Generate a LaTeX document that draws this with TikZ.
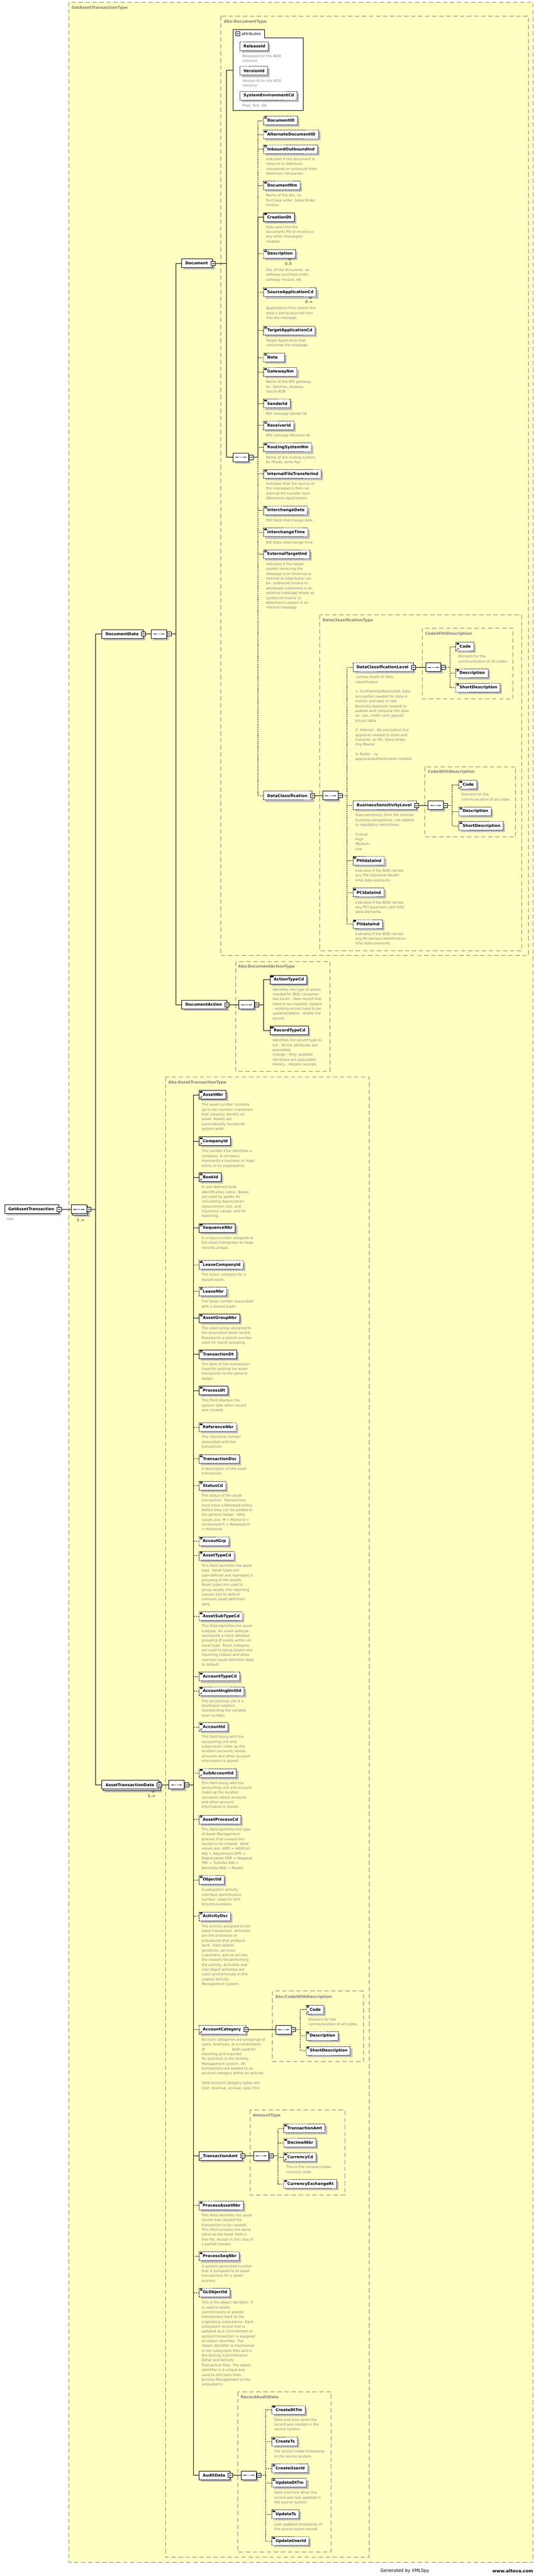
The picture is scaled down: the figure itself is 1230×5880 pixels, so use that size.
\documentclass[tikz,border=0pt]{standalone}
\usepackage{fontspec}
\setmainfont{DejaVu Sans}
\usetikzlibrary{shapes.misc,shadows,arrows.meta}
\definecolor{yel}{RGB}{255,255,194}
\definecolor{tgray}{RGB}{128,128,128}
\definecolor{dgray}{RGB}{128,128,128}
\definecolor{shgray}{RGB}{192,192,192}
\def\ppb{path picture bounding box}
\newcommand{\EqDraw}{\draw[solid,line width=0.5pt]
  ([xshift=1.5pt,yshift=-1.5pt]\ppb.north west) -- ([xshift=7.5pt,yshift=-1.5pt]\ppb.north west)
  ([xshift=1.5pt,yshift=-3pt]\ppb.north west) -- ([xshift=7.5pt,yshift=-3pt]\ppb.north west)
  ([xshift=1.5pt,yshift=-4.5pt]\ppb.north west) -- ([xshift=7.5pt,yshift=-4.5pt]\ppb.north west);}
\newcommand{\RefDraw}{\draw[solid,line width=0.7pt,-{Stealth[length=3pt,width=3pt]}]
  ([xshift=1.5pt,yshift=1.5pt]\ppb.south west) -- ([xshift=6.5pt,yshift=6.5pt]\ppb.south west);}
\tikzset{
 el/.style={draw=black, fill=white, line width=0.8pt, minimum height=20pt, inner xsep=6.5pt, inner ysep=0pt,
   font=\fontsize{9}{10}\selectfont\bfseries, anchor=west,
   drop shadow={shadow xshift=4.5pt, shadow yshift=-4.5pt, fill=shgray, opacity=1, draw=none}},
 opt/.style={dash pattern=on 2pt off 1.5pt},
 eqi/.style={path picture={\EqDraw}},
 eqr/.style={path picture={\EqDraw\RefDraw}},
 ri/.style={path picture={\RefDraw}},
 stk/.style={drop shadow={shadow xshift=7.5pt, shadow yshift=-7.5pt, fill=shgray, opacity=1, draw=none},
   copy shadow={shadow xshift=3pt, shadow yshift=-3pt, fill=white, draw=black, line width=0.8pt, solid}},
 minusb/.style={draw=black, fill=white, line width=0.7pt, minimum size=9.5pt, inner sep=0pt, solid,
   path picture={\draw[solid,line width=0.7pt] ([xshift=2pt]\ppb.west) -- ([xshift=-2pt]\ppb.east);}},
 seqn/.style={chamfered rectangle, chamfered rectangle xsep=6pt, draw=black, fill=white, line width=0.8pt,
   minimum width=35pt, minimum height=20pt, inner sep=0pt, anchor=west,
   drop shadow={shadow xshift=4.5pt, shadow yshift=-4.5pt, fill=shgray, opacity=1, draw=none},
   path picture={\draw[solid,line width=0.8pt] ([xshift=5pt]\ppb.west) -- ([xshift=-5pt]\ppb.east);
     \fill ([xshift=-4pt]\ppb.center) circle (1.4pt) (\ppb.center) circle (1.4pt) ([xshift=4pt]\ppb.center) circle (1.4pt);}},
 dsc/.style={font=\fontsize{8}{11}\selectfont, text=dgray, align=left, inner sep=0pt, anchor=north west},
 mult/.style={font=\fontsize{8}{9}\selectfont, inner sep=0pt},
 tbox/.style={draw=tgray, line width=1pt, dash pattern=on 10pt off 6pt},
 tlabel/.style={text=tgray, font=\fontsize{9}{10}\selectfont\bfseries, anchor=west, inner sep=0pt},
 conn/.style={draw=black, line width=0.8pt},
 optc/.style={dash pattern=on 2.5pt off 2pt}
}
\newcommand{\El}[5][]{\node[el,#1] (#2) at (#3,#4) {\hspace*{2pt}#5};}
\newcommand{\Cx}[5][]{\node[el,#1] (#2) at (#3,#4) {\hspace*{2pt}#5\hspace*{4.5pt}}; \node[minusb] (#2-m) at (#2.east) {};}
\newcommand{\Sq}[4][]{\node[seqn,#1] (#2) at (#3,#4) {}; \node[minusb,anchor=west] (#2-m) at (#2.east) {};}
\newcommand{\Dsc}[3][0]{\node[dsc] (#2-d) at ([xshift=6pt,yshift={-9pt-#1pt}]#2.south west) {#3};}
\newcommand{\Mult}[3][0]{\draw[line width=0.6pt] ([xshift=-17pt,yshift=-#1pt]#2.south east) -- ++(3.5,4) -- ++(3.5,-4);
  \node[mult] (#2-n) at ([xshift=-17pt,yshift={-12pt-#1pt}]#2.south east) {#3};}
\newcommand{\Ch}[3][]{\draw[conn,#1] (#2-m.east) -- ++(10,0) |- (#3.west);}
\begin{document}
\begin{tikzpicture}[x=1pt,y=-1pt]
\useasboundingbox (0,0) rectangle (1230,5880);
\fill[white] (0,0) rectangle (1230,5880);
% ---------- type boxes ----------
\draw[tbox, fill=yel] (157,5) rectangle (1217,5849);
\node[tlabel] (tGAT) at (163,18) {GetAssetTransactionType};
\draw[tbox] (504,37) rectangle (1206,2181);
\node[tlabel] (tDoc) at (511,49.5) {Abs:DocumentType};
\draw[tbox] (730,1404) rectangle (1191,2170);
\node[tlabel] (tDC) at (736,1416) {DataClassificationType};
\draw[tbox] (964,1434) rectangle (1171,1595);
\node[tlabel] (tCW1) at (970,1447) {CodeWithDescription};
\draw[tbox] (970,1750) rectangle (1177,1910);
\node[tlabel] (tCW2) at (976,1762) {CodeWithDescription};
\draw[tbox] (538,2195) rectangle (753,2445);
\node[tlabel] (tDA) at (543,2207) {Abs:DocumentActionType};
\draw[tbox] (378,2458) rectangle (843,5837);
\node[tlabel] (tAT) at (384,2471) {Abs:AssetTransactionType};
\draw[tbox] (622,4545) rectangle (829,4706);
\node[tlabel] (tCW3) at (628,4558) {Abs:CodeWithDescription};
\draw[tbox] (571,4816) rectangle (787,5010);
\node[tlabel] (tAm) at (577,4829) {AmountType};
\draw[tbox] (543,5459) rectangle (755,5825);
\node[tlabel] (tRA) at (549,5472) {RecordAuditData};
% ---------- root ----------
\Cx{root}{10}{2760}{GetAssetTransaction}
\node[dsc,anchor=west] (rootl) at (15,2783) {root};
\Sq[stk]{rootS}{162}{2760}
\node[mult] (rootSn) at ([xshift=4pt,yshift=-14pt]rootS.south) {1..∞};
\Cx{dData}{232}{1447}{DocumentData}
\Sq{dDataS}{345}{1447}
\Cx[stk]{atd}{232}{4074}{AssetTransactionData}
\Mult[3]{atd}{1..∞}
\Sq{atdS}{385}{4074}
% ---------- Document ----------
\Cx{doc}{414}{601}{Document}
\draw[line width=0.8pt, fill=white] (532,68) -- (604,68) -- (604,86) -- (692,86) -- (692,252) -- (532,252) -- cycle;
\coordinate (attrw) at (532,160);
\coordinate (dv) at (517,601);
\node[minusb] (attm) at (542.5,77) {};
\node[font=\fontsize{9}{10}\selectfont\itshape, anchor=west, inner sep=0pt] (attl) at (551,77) {attributes};
\El[opt]{relId}{547}{105.5}{ReleaseId}
\Dsc{relId}{ReleaseId for the BOD\\instance}
\El[opt]{verId}{547}{161.5}{VersionId}
\Dsc{verId}{Version Id for the BOD\\instance}
\El[opt]{sysEnv}{547}{218}{SystemEnvironmentCd}
\Dsc{sysEnv}{Prod, Test, QA}
\Sq{docS}{532}{1044}
\El[opt,eqi]{dID}{601}{275}{DocumentID}
\El[opt,eqi]{aID}{601}{307}{AlternateDocumentID}
\El[opt,eqi]{ioI}{601}{340.5}{InboundOutboundInd}
\Dsc{ioI}{Indicates if the document is\\inbound to Albertson\\companies or outbound from\\Albertson companies.}
\El[opt,eqi]{dNm}{601}{423.5}{DocumentNm}
\Dsc{dNm}{Name of the doc, ex\\Purchase order, Sales Order,\\Invoice.}
\El[eqi]{cDt}{601}{495.5}{CreationDt}
\Dsc{cDt}{Date and time the\\document( PO or Invoice or\\any other messages)\\created.}
\El[opt,eqi]{dDsc}{601}{579.5}{Description}
\Mult{dDsc}{0..5}
\Dsc[14]{dDsc}{Dsc of the document. ex\\safeway purchase order,\\safeway invoice..etc}
\El[opt,eqi]{sApp}{601}{667}{SourceApplicationCd}
\Mult{sApp}{0..∞}
\Dsc[14]{sApp}{Applications from where the\\data is being sourced from\\into the message.}
\El[opt,eqi]{tApp}{601}{754.5}{TargetApplicationCd}
\Dsc{tApp}{Target Application that\\consumes the message.}
\El[opt,eqi]{note}{601}{816}{Note\hspace*{9pt}}
\El[opt,eqi]{gwy}{601}{849}{GatewayNm}
\Dsc{gwy}{Name of the EDI gateway.\\Ex: Gentran, Axaway,\\Oracle B2B}
\El[opt,eqi]{snd}{601}{921}{SenderId}
\Dsc{snd}{EDI message sender Id}
\El[opt,eqi]{rcv}{601}{971}{ReceiverId}
\Dsc{rcv}{EDI message Receiver Id}
\El[opt,eqi]{rtg}{601}{1021}{RoutingSystemNm}
\Dsc{rtg}{Name of the routing system.\\Ex iTrade, wims Fax}
\El[opt,eqi]{ift}{601}{1081.5}{InternalFileTransferInd}
\Dsc{ift}{Indicates that the source of\\the messages is from an\\internal file transfer from\\Albertsons applications.}
\El[opt,eqi]{icd}{601}{1165}{InterchangeDate}
\Dsc{icd}{EDI Data interchange date}
\El[opt,eqi]{ict}{601}{1215}{InterchangeTime}
\Dsc{ict}{EDI Data interchange time}
\El[opt,eqi]{ext}{601}{1265}{ExternalTargetInd}
\Dsc{ext}{Indicates if the target\\system receiving the\\message is an External or\\Internal to Albertsons cos.\\Ex: outbound invoice to\\wholesale customers is an\\external message where as\\outbound invoice to\\Albertsons Lawson is an\\Internal message.}
\Cx[opt]{dcl}{601}{1816}{DataClassification}
% ---------- DataClassification ----------
\Sq{dclS}{736}{1816}
\Cx[opt]{dcLv}{805}{1523}{DataClassificationLevel}
\Dsc{dcLv}{various levels of data\\classification\\[11pt]1- Confidential/Restricted, data\\encryption needed for data in\\motion and data in rest.\\Business Approval needed to\\publish and consume the data.\\ex: ssn, credit card, payroll,\\phi,pci data\\[11pt]2- Internal - No encryption but\\approval needed to store and\\transmit, ex PO, Store Order,\\Org Master\\[11pt]3- Public - no\\approval/authentication needed}
\Sq{dcLvS}{971}{1523}
\El[opt,eqr]{c1}{1040}{1476}{Code}
\Dsc{c1}{Element for the\\communication of all codes.}
\El[opt,eqi]{d1}{1040}{1536.5}{Description}
\El[opt,eqi]{s1}{1040}{1569.5}{ShortDescription}
\Cx[opt]{bsl}{805}{1838}{BusinessSensitivityLevel}
\Dsc{bsl}{Data sensitivity from the internal\\business perspective, not related\\to regulatory restrictions.\\[11pt]Critical\\High\\Medium\\Low}
\Sq{bslS}{976}{1838}
\El[opt,eqr]{c2}{1047}{1791}{Code}
\Dsc{c2}{Element for the\\communication of all codes.}
\El[opt,eqi]{d2}{1047}{1852}{Description}
\El[opt,eqi]{s2}{1047}{1885}{ShortDescription}
\El[opt,eqi]{phi}{805}{1964.5}{PHIdataInd}
\Dsc{phi}{Indicates if the BOD carries\\any PHI (personal Health\\Info) data elements.}
\El[opt,eqi]{pci}{805}{2037}{PCIdataInd}
\Dsc{pci}{Indicates if the BOD carries\\any PCI (payment card info)\\data elements.}
\El[opt,eqi]{pii}{805}{2109}{PIIdataInd}
\Dsc{pii}{Indicates if the BOD carries\\any PII (person identification\\Info) data elements.}
% ---------- DocumentAction ----------
\Cx{dAct}{414}{2293}{DocumentAction}
\Sq{dActS}{545}{2293}
\El[eqi]{atc}{616}{2236}{ActionTypeCd}
\Dsc{atc}{Identifies the type of action\\needed for BOD consumer\\like Insert - New record that\\need to be inserted, Update\\- existing record need to be\\updated,delete - delete the\\record.}
\El[eqi]{rtc}{616}{2352}{RecordTypeCd}
\Dsc{rtc}{Identifies the record type as\\full - All the attributes are\\populated,\\change - Only updated\\attributes are populated,\\History - Historic records.}
% ---------- AssetTransaction ----------
\El[eqr]{aNbr}{454}{2499}{AssetNbr}
\Dsc{aNbr}{The asset number contains\\up to ten numeric characters\\that uniquely  identify an\\asset. Assets are\\automatically numbered\\system-wide.}
\El[eqr]{coId}{454}{2605}{CompanyId}
\Dsc{coId}{The number that identifies a\\company. A company\\represents a business or legal\\entity of an organization.}
\El[eqr]{bkId}{454}{2687}{BookId}
\Dsc{bkId}{A user-defined book\\identification name. Books\\are used by assets for\\calculating depreciation,\\replacement cost, and\\insurance values, and for\\reporting.}
\El[eqi]{sqN}{454}{2803}{SequenceNbr}
\Dsc{sqN}{A unique number assigned to\\the asset transaction to keep\\records unique.}
\El[opt,eqi]{lcId}{454}{2887}{LeaseCompanyId}
\Dsc{lcId}{The lessor company for a\\leased asset.}
\El[opt,eqi]{lNbr}{454}{2948}{LeaseNbr}
\Dsc{lNbr}{The lease number associated\\with a leased asset.}
\El[eqi]{agN}{454}{3009}{AssetGroupNbr}
\Dsc{agN}{The asset group assigned to\\the associated asset record.\\Represents a parent number\\used for report grouping.}
\El[eqi]{trDt}{454}{3091}{TransactionDt}
\Dsc{trDt}{The date of the transaction.\\Used for posting the asset\\transaction to the general\\ledger.}
\El[eqi]{prDt}{454}{3174}{ProcessDt}
\Dsc{prDt}{This field displays the\\system date when record\\was created.}
\El[opt,eqi]{refN}{454}{3257.5}{ReferenceNbr}
\Dsc{refN}{The reference number\\associated with the\\transaction.}
\El[opt,eqi]{trDsc}{454}{3330}{TransactionDsc}
\Dsc{trDsc}{A description of the asset\\transaction.}
\El[opt,eqi]{stCd}{454}{3391}{StatusCd}
\Dsc{stCd}{The status of the asset\\transaction.  Transactions\\must have a Released status\\before they can be posted to\\the general ledger.  Valid\\values are: M = Memo U =\\Unreleased R = Released H\\= Historical.}
\El[opt,eqi]{acGrp}{454}{3518}{AccoutGrp}
\El[opt,eqi]{atCd}{454}{3551}{AssetTypeCd}
\Dsc{atCd}{This field identifies the asset\\type.  Asset types are\\user-defined and represent a\\grouping of like assets.\\Asset types are used to\\group assets into reporting\\classes and to default\\common asset definition\\data.}
\El[opt,eqi]{astCd}{454}{3689}{AssetSubTypeCd}
\Dsc{astCd}{This field identifies the asset\\subtype. An asset subtype\\represents a more detailed\\grouping of assets within an\\asset type. Asset subtypes\\are used to group assets into\\reporting classes and allow\\common asset definition data\\to default.}
\El[opt,eqi]{actCd}{454}{3827}{AccountTypeCd}
\El[opt,eqr]{auId}{454}{3860}{AccountingUnitId}
\Dsc{auId}{The accounting unit is a\\shorthand notation\\representing the variable\\level number.}
\El[opt,eqr]{accId}{454}{3942}{AccountId}
\Dsc{accId}{This field along with the\\accounting unit and\\subaccount make up the\\location (account) where\\amounts and other  account\\information is stored.}
\El[opt,eqr]{sacId}{454}{4047}{SubAccountId}
\Dsc{sacId}{This field along with the\\accounting unit and account\\make up the location\\(account) where amounts\\and other  account\\information is stored.}
\El[opt,eqi]{apCd}{454}{4153}{AssetProcessCd}
\Dsc{apCd}{This field identifies the type\\of Asset Management\\process that caused this\\record to be created. Valid\\values are: ADD = Addition\\ADJ = Adjustment DPR =\\Depreciation DSP = Disposal\\TRF = Transfer RIN =\\Reinstate RAD = Readd.}
\El[opt,eqi]{obId}{454}{4291}{ObjectId}
\Dsc{obId}{A subsystem activity\\interface identification\\number. Used for Drill\\Around purposes.}
\El[opt,eqi]{actDsc}{454}{4374}{ActivityDsc}
\Dsc{actDsc}{The activity assigned to the\\asset transaction.  Activities\\are the processes or\\procedures that produce\\work. Cost objects\\(products, services,\\customers, and so on) are\\the reasons for performing\\the activity. Activities and\\cost object activities are\\used synonymously in the\\Lawson Activity\\Management system.}
\Cx[opt,ri]{acCat}{454}{4633}{AccountCategory}
\Dsc{acCat}{Account categories are groupings of\\costs, revenues, or a combination\\of\hspace*{62pt}both used for\\reporting and inquiries\\for activities in the Activity\\Management system. All\\transactions are posted to an\\account category within an activity.\\[11pt]Valid account category types are:\\Cost, revenue, accrual,  pass thru}
\Sq{acCatS}{629}{4633}
\El[opt,eqr]{c3}{698}{4587}{Code}
\Dsc{c3}{Element for the\\communication of all codes.}
\El[opt,eqi]{d3}{698}{4647}{Description}
\El[opt,eqi]{s3}{698}{4681}{ShortDescription}
\Cx[ri]{trAmt}{454}{4921}{TransactionAmt}
\Sq{trAmtS}{578}{4921}
\El[opt,eqi]{trAmt2}{647}{4858}{TransactionAmt}
\El[opt,eqi]{decN}{647}{4891}{DecimalNbr}
\El[opt,eqr]{curCd}{647}{4924}{CurrencyCd}
\Dsc{curCd}{This is the company base\\currency code.}
\El[opt,eqi]{curX}{647}{4985}{CurrencyExchangeRt}
\El[opt,eqi]{paN}{454}{5034}{ProcessAssetNbr}
\Dsc{paN}{This field identifies the asset\\record that caused the\\transaction to be  created.\\This field contains the same\\value as the Asset field in\\this file, except in the case of\\a partial transfer.}
\El[opt,eqi]{psN}{454}{5150}{ProcessSeqNbr}
\Dsc{psN}{A system-generated number\\that is assigned to all asset\\transactions for a given\\process.}
\El[opt,eqi]{glId}{454}{5233}{GLObjectId}
\Dsc{glId}{This is the object identifier. It\\is used to relate\\commitments or posted\\transactions back to the\\originating subsystems. Each\\subsystem record that is\\updated as a commitment or\\posted transaction is assigned\\an object identifier. The\\object identifier is maintained\\in the subsystem files and in\\the Activity Commitments\\Detail and Activity\\Transaction files. The object\\identifier is a unique key\\used to drill back from\\Activity Management to the\\subsystems.}
\Cx{aud}{454}{5650}{AuditData}
\Sq{audS}{550}{5650}
\El[opt,eqi]{crDt}{620}{5500.5}{CreateDtTm}
\Dsc{crDt}{Date and time when the\\record was created in the\\source system.}
\El[opt,eqi]{crTs}{620}{5573}{CreateTs}
\Dsc{crTs}{the record create timestamp\\in the source system.}
\El[opt,eqi]{crU}{620}{5634}{CreateUserId}
\El[opt,eqi]{upDt}{620}{5667}{UpdateDtTm}
\Dsc{upDt}{Date and time when the\\record was last updated in\\the source system.}
\El[opt,eqi]{upTs}{620}{5739}{UpdateTs}
\Dsc{upTs}{Last updated timestamp of\\the source sytem record.}
\El[opt,eqi]{upU}{620}{5800}{UpdateUserId}
% ---------- connectors ----------
\draw[conn] (root-m.east) -- (rootS.west);
\Ch{rootS}{dData}
\Ch{rootS}{atd}
\draw[conn] (dData-m.east) -- (dDataS.west);
\Ch{dDataS}{doc}
\Ch{dDataS}{dAct}
\draw[conn] (doc-m.east) -- (dv);
\draw[conn] (dv) |- (attrw);
\draw[conn] (dv) |- (docS.west);
\foreach \c in {dID,aID,ioI,dNm,dDsc,sApp,tApp,note,gwy,snd,rcv,rtg,ift,icd,ict,ext,dcl}{\Ch[optc]{docS}{\c}}
\Ch{docS}{cDt}
\draw[conn] (dcl-m.east) -- (dclS.west);
\foreach \c in {dcLv,bsl,phi,pci,pii}{\Ch[optc]{dclS}{\c}}
\draw[conn] (dcLv-m.east) -- (dcLvS.west);
\foreach \c in {c1,d1,s1}{\Ch[optc]{dcLvS}{\c}}
\draw[conn] (bsl-m.east) -- (bslS.west);
\foreach \c in {c2,d2,s2}{\Ch[optc]{bslS}{\c}}
\draw[conn] (dAct-m.east) -- (dActS.west);
\Ch{dActS}{atc}
\Ch{dActS}{rtc}
\draw[conn] (atd-m.east) -- (atdS.west);
\foreach \c in {aNbr,coId,bkId,sqN,agN,trDt,prDt,trAmt,aud}{\Ch{atdS}{\c}}
\foreach \c in {lcId,lNbr,refN,trDsc,stCd,acGrp,atCd,astCd,actCd,auId,accId,sacId,apCd,obId,actDsc,acCat,paN,psN,glId}{\Ch[optc]{atdS}{\c}}
\draw[conn] (acCat-m.east) -- (acCatS.west);
\foreach \c in {c3,d3,s3}{\Ch[optc]{acCatS}{\c}}
\draw[conn] (trAmt-m.east) -- (trAmtS.west);
\foreach \c in {trAmt2,decN,curCd,curX}{\Ch[optc]{trAmtS}{\c}}
\draw[conn] (aud-m.east) -- (audS.west);
\foreach \c in {crDt,crTs,crU,upDt,upTs,upU}{\Ch[optc]{audS}{\c}}
% ---------- footer ----------
\node[font=\fontsize{10}{12}\selectfont, anchor=west, inner sep=0pt] (gen) at (868,5868) {Generated by XMLSpy};
\node[font=\fontsize{10}{12}\selectfont\bfseries, anchor=east, inner sep=0pt] (alt) at (1217,5868) {www.altova.com};
\end{tikzpicture}
\end{document}
